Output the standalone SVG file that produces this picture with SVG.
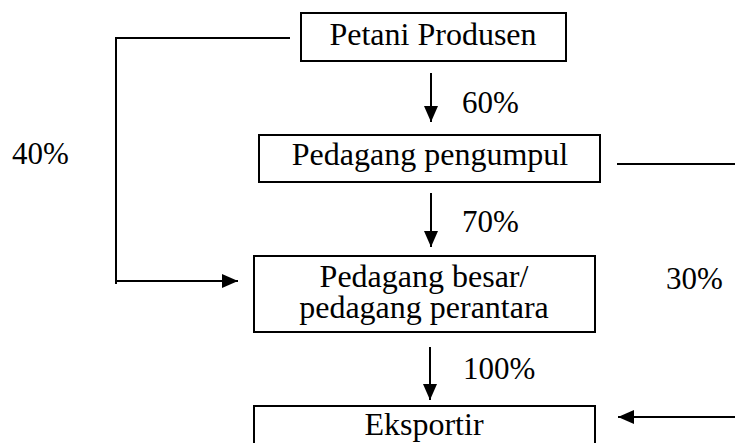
<svg xmlns="http://www.w3.org/2000/svg" width="735" height="443" viewBox="0 0 735 443">
<style>
.box{fill:#fff;stroke:#000;stroke-width:2}
.t{font-family:"Liberation Serif","Times New Roman",serif;font-size:32px;fill:#000}
.p{font-size:31px}
.c{text-anchor:middle}
.ln{fill:none;stroke:#000;stroke-width:2}
</style>
<defs>
<marker id="ah" markerUnits="userSpaceOnUse" markerWidth="16" markerHeight="14" refX="16" refY="7" orient="auto">
<path d="M0,0 L16,7 L0,14 Z" fill="#000"/>
</marker>
</defs>
<rect width="735" height="443" fill="#fff"/>
<g id="connectors">
<path class="ln" d="M290,38 H116 V284"/>
<path class="ln" d="M116,281 H238" marker-end="url(#ah)"/>
<path class="ln" d="M431,73 V122" marker-end="url(#ah)"/>
<path class="ln" d="M431,193 V247" marker-end="url(#ah)"/>
<path class="ln" d="M430,347 V400" marker-end="url(#ah)"/>
<path class="ln" d="M617,164 H735"/>
<path class="ln" d="M735,417 H618" marker-end="url(#ah)"/>
</g>
<g id="labels">
<text class="t p" x="12" y="164">40%</text>
<text class="t p" x="462" y="113">60%</text>
<text class="t p" x="462" y="232">70%</text>
<text class="t p" x="666" y="289">30%</text>
<text class="t p" x="463" y="379">100%</text>
</g>
<g id="petani">
<rect class="box" x="301" y="13" width="265" height="48"/>
<text class="t c" x="433" y="45">Petani Produsen</text>
</g>
<g id="pengumpul">
<rect class="box" x="259" y="135" width="341" height="47"/>
<text class="t c" x="430" y="165">Pedagang pengumpul</text>
</g>
<g id="besar">
<rect class="box" x="254" y="256" width="341" height="76"/>
<text class="t c" x="424" y="287">Pedagang besar/<tspan x="424" y="318">pedagang perantara</tspan></text>
</g>
<g id="eksportir">
<rect class="box" x="254" y="406" width="341" height="46"/>
<text class="t c" x="424" y="435">Eksportir</text>
</g>
</svg>
